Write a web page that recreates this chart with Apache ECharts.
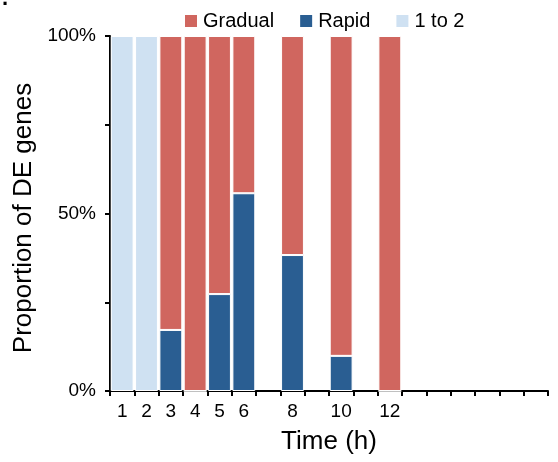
<!DOCTYPE html>
<html>
<head>
<meta charset="utf-8">
<script src="https://cdn.jsdelivr.net/npm/echarts@6/dist/echarts.min.js"></script>
<style>html,body{margin:0;padding:0;background:#fff;}#c{width:558px;height:462px;}</style>
</head>
<body>
<div id="c"></div>
<script>
var timeLabels = ['1','2','3','4','5','6','','8','','10','','12','','','','','',''];
var oneToTwo = [100,100,null,null,null,null,null,null,null,null,null,null,null,null,null,null,null,null];
var rapid    = [null,null,17.2,0,27.3,55.7,null,38.3,null,9.9,null,0,null,null,null,null,null,null];
var gradual  = [null,null,82.8,100,72.7,44.3,null,61.7,null,90.1,null,100,null,null,null,null,null,null];
var yLabeled = [0,50,100];

var font = 'Liberation Sans, Arial, sans-serif';
var chart = echarts.init(document.getElementById('c'));
var slots = timeLabels.map(function(_, i){ return 's' + i; });
chart.setOption({
  animation: false,
  graphic: [{type: 'text', left: 2, top: -12, style: {text: '.', font: 'bold 22px Liberation Sans, Arial, sans-serif', fill: '#000'}}],
  grid: {left: 110, right: 10, top: 36, bottom: 71},
  legend: {
    top: 6, left: 178,
    itemWidth: 14, itemHeight: 14, itemGap: 24,
    icon: 'rect',
    textStyle: {fontFamily: font, fontSize: 20, color: '#000'},
    data: ['Gradual','Rapid','1 to 2']
  },
  xAxis: {
    type: 'category',
    data: slots,
    name: 'Time (h)', nameLocation: 'middle', nameGap: 38,
    nameTextStyle: {fontFamily: font, fontSize: 26, color: '#000'},
    axisLine: {lineStyle: {color: '#000', width: 2}},
    axisTick: {show: true, length: 5, lineStyle: {color: '#000', width: 2}, alignWithLabel: false},
    axisLabel: {fontFamily: font, fontSize: 19, color: '#000', margin: 11, interval: 0,
      formatter: function(v, i){ return timeLabels[i]; }}
  },
  yAxis: {
    type: 'value', min: 0, max: 100, interval: 25,
    name: 'Proportion of DE genes', nameLocation: 'middle', nameGap: 71, nameRotate: 90,
    nameTextStyle: {fontFamily: font, fontSize: 26, color: '#000', padding: [0, 9, 0, 0]},
    splitLine: {show: false},
    axisLine: {show: true, lineStyle: {color: '#000', width: 2}},
    axisTick: {show: true, length: 5, lineStyle: {color: '#000', width: 2}},
    axisLabel: {fontFamily: font, fontSize: 19, color: '#000', margin: 14,
      formatter: function(v){ return yLabeled.indexOf(v) >= 0 ? v + '%' : ''; }}
  },
  series: [
    {name: 'Rapid', type: 'bar', stack: 'a', data: rapid, barCategoryGap: '6%',
     itemStyle: {color: '#2A5E92', borderColor: '#fff', borderWidth: 1}},
    {name: 'Gradual', type: 'bar', stack: 'a', data: gradual,
     itemStyle: {color: '#D0665F', borderColor: '#fff', borderWidth: 1}},
    {name: '1 to 2', type: 'bar', stack: 'a', data: oneToTwo,
     itemStyle: {color: '#CFE1F2', borderColor: '#fff', borderWidth: 1}}
  ]
});
</script>
</body>
</html>
